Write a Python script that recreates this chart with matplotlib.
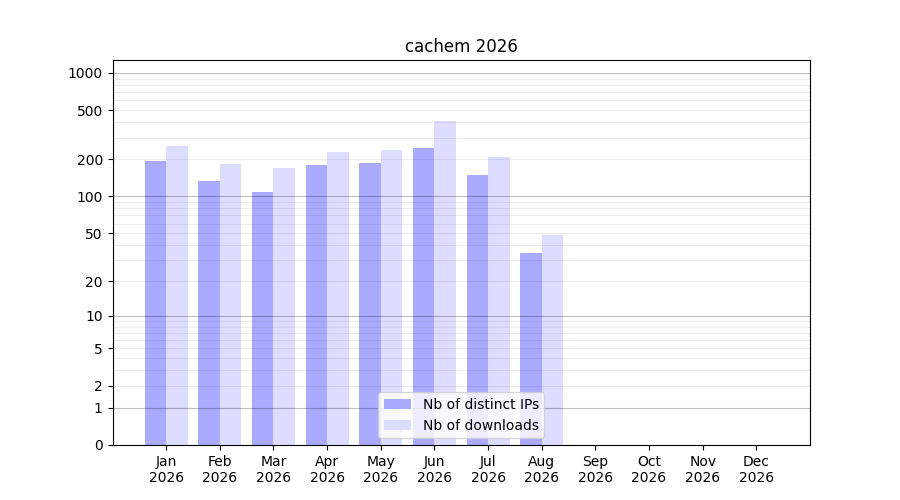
import numpy as np
import matplotlib.pyplot as plt

# data
months = ['Jan', 'Feb', 'Mar', 'Apr', 'May', 'Jun', 'Jul', 'Aug', 'Sep', 'Oct', 'Nov', 'Dec']
year = '2026'
distinct_ips = [194, 134, 109, 180, 187, 247, 149, 34]
downloads = [257, 183, 170, 229, 238, 409, 209, 48]

fwd = lambda v: np.log10(1 + np.asarray(v, dtype=float))
inv = lambda v: 10 ** np.asarray(v, dtype=float) - 1

fig, ax = plt.subplots(figsize=(9, 5), dpi=100)
ax.set_yscale('function', functions=(fwd, inv))

x = np.arange(len(months))
w = 0.4
ax.bar(x[:len(distinct_ips)] - w / 2, distinct_ips, w, color='#aaaaff', label='Nb of distinct IPs', zorder=1)
ax.bar(x[:len(downloads)] + w / 2, downloads, w, color='#ddddff', label='Nb of downloads', zorder=1)

yticks = [0, 1, 2, 5, 10, 20, 50, 100, 200, 500, 1000]
minor = [m * 10 ** k for k in range(3) for m in (3, 4, 6, 7, 8, 9)]
ax.set_yticks(yticks)
ax.set_yticklabels([str(t) for t in yticks])
ax.set_yticks(minor, minor=True)
ax.tick_params(axis='y', which='minor', length=0)
for t in yticks[1:] + minor:
    dark = t in (1, 10, 100, 1000)
    ax.axhline(t, color='black', alpha=0.25 if dark else 0.07, lw=0.8, zorder=2)

ax.set_xticks(x)
ax.set_xticklabels([m + '\n' + year for m in months])
ax.set_xlim(-1, 12)
ax.set_ylim(0, 1270)
ax.set_title('cachem 2026')
ax.legend(loc='lower center')

plt.savefig('out.png')
